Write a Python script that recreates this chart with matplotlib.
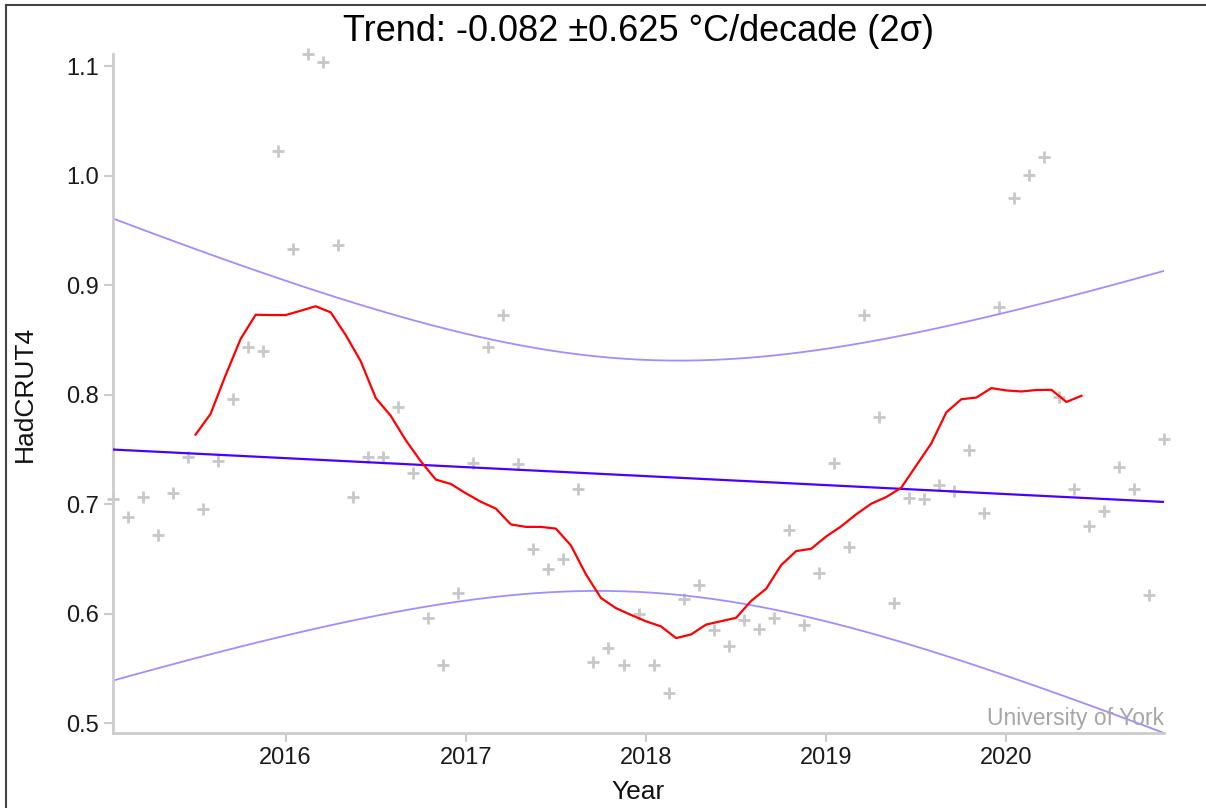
import numpy as np
import pandas as pd
import matplotlib
matplotlib.use('Agg')
import matplotlib.pyplot as plt
from matplotlib.lines import Line2D

plt.rcParams['font.family'] = ['Liberation Sans', 'DejaVu Sans']

# HadCRUT4 monthly anomalies (degC), Jan 2015 .. Nov 2020
start_year = 2015
hadcrut4 = [
    0.705, 0.688, 0.707, 0.672, 0.710, 0.743, 0.696, 0.740, 0.796, 0.844, 0.840, 1.022,  # 2015
    0.933, 1.111, 1.104, 0.937, 0.707, 0.743, 0.743, 0.789, 0.729, 0.596, 0.553, 0.619,  # 2016
    0.738, 0.844, 0.873, 0.737, 0.659, 0.641, 0.650, 0.714, 0.556, 0.569, 0.553, 0.600,  # 2017
    0.553, 0.528, 0.614, 0.626, 0.585, 0.571, 0.594, 0.586, 0.596, 0.677, 0.590, 0.637,  # 2018
    0.738, 0.661, 0.873, 0.780, 0.610, 0.706, 0.705, 0.718, 0.712, 0.750, 0.692, 0.880,  # 2019
    0.980, 1.001, 1.017, 0.798, 0.714, 0.680, 0.694, 0.734, 0.714, 0.617, 0.760,         # 2020
]

# trend stats as printed in the title, plus 2 sigma of the mean level
trend_per_decade = -0.082
trend_2sigma_per_decade = 0.625
mean_2sigma = 0.106

x_ticks = [2016, 2017, 2018, 2019, 2020]
y_ticks = [0.5, 0.6, 0.7, 0.8, 0.9, 1.0, 1.1]

temps = np.array(hadcrut4)
t = start_year + (np.arange(len(temps)) + 0.5) / 12.0

# 12 month running mean, centred
smooth = pd.Series(temps).rolling(12).mean().to_numpy()
t_smooth = t - 5.5 / 12.0

# linear trend through the mean, with its 2 sigma envelope
tm = t.mean()
slope = trend_per_decade / 10.0
trend = temps.mean() + slope * (t - tm)
half = np.sqrt(mean_2sigma**2 + (trend_2sigma_per_decade / 10.0 * (t - tm))**2)
upper = trend + half
lower = trend - half

fig = plt.figure(figsize=(12.06, 8.08), dpi=100)
ax = fig.add_axes([0.0937, 0.0928, 0.8715, 0.8404])

ax.plot(t, temps, '+', color='#c8c8c8', ms=9, mew=2, zorder=1, clip_on=False)
ax.plot(t, upper, color='#9a90ff', lw=1.3, zorder=2)
ax.plot(t, lower, color='#9a90ff', lw=1.3, zorder=2)
ax.plot(t, trend, color='#4a00ff', lw=1.6, zorder=3)
ax.plot(t_smooth, smooth, color='#ff0000', lw=1.6, zorder=4)

ax.set_xlim(t[0], t[-1])
ax.set_ylim(min(lower.min(), temps.min()), max(upper.max(), temps.max()))
ax.set_xticks(x_ticks)
ax.set_yticks(y_ticks)
ax.set_yticklabels(['%.1f' % v for v in y_ticks])

for s in ['top', 'right']:
    ax.spines[s].set_visible(False)
for s in ['left', 'bottom']:
    ax.spines[s].set_color('#cccccc')
    ax.spines[s].set_linewidth(2)
ax.tick_params(colors='#cccccc', labelcolor='#1a1a1a', length=6.5, width=1.5,
               labelsize=17, pad=3.5)

ax.set_xlabel('Year', fontsize=19, color='#111111', labelpad=8)
ax.set_ylabel('HadCRUT4', fontsize=19, color='#111111', labelpad=21)
ax.set_title('Trend: %.3f \u00b1%.3f \u00b0C/decade (2\u03c3)' % (trend_per_decade, trend_2sigma_per_decade),
             fontsize=26, color='#000000', pad=9)

ax.text(1.0, 0.005, 'University of York', transform=ax.transAxes, ha='right', va='bottom',
        fontsize=16.5, color='#a6a6a6', zorder=5)

# screenshot frame on the left and top edges
fig.add_artist(Line2D([6 / 1206, 6 / 1206], [0, 1 - 5 / 808], color='#444444', lw=1.5))
fig.add_artist(Line2D([6 / 1206, 1], [1 - 5 / 808, 1 - 5 / 808], color='#444444', lw=1.5))

fig.savefig('out.png', dpi=100)
